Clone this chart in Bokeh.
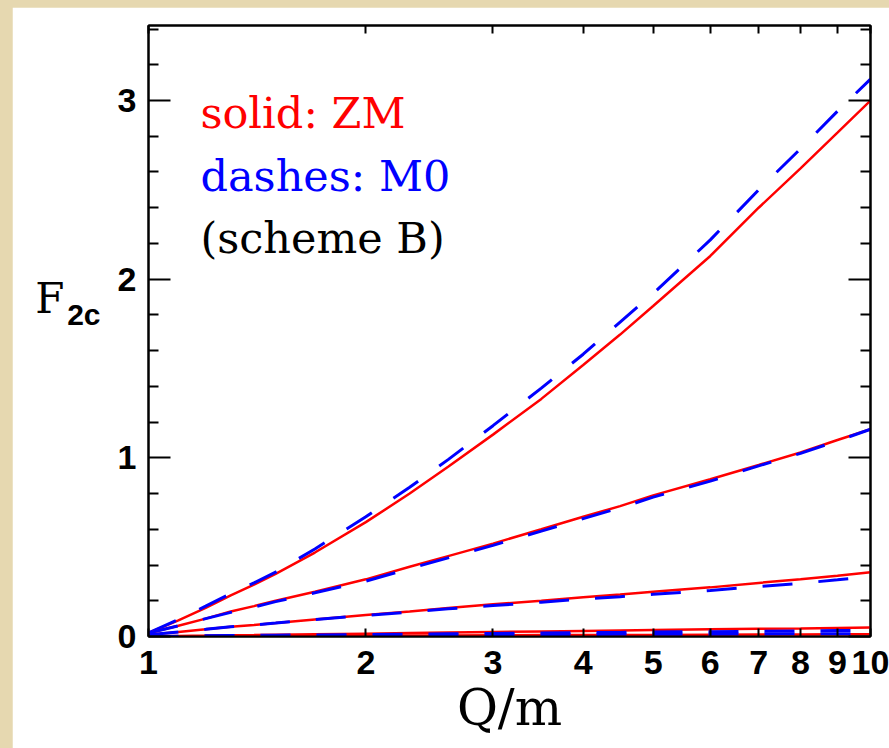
from bokeh.plotting import figure
from bokeh.models import (Label, LinearAxis, LogAxis, FixedTicker, PrintfTickFormatter,
                          CustomJSTickFormatter, Range1d)
from bokeh.layouts import column
from bokeh.embed import file_html
from bokeh.resources import INLINE

# ---- data ----
q = [1, 1.1, 1.2, 1.3, 1.4, 1.5, 1.7, 2, 2.3, 2.6, 3, 3.5, 4, 4.5, 5, 6, 7, 8, 9, 10]

zm_a = [0.02, 0.09, 0.16, 0.23, 0.29, 0.35, 0.47, 0.64, 0.80, 0.95, 1.13, 1.33, 1.52, 1.69, 1.85,
        2.13, 2.40, 2.62, 2.82, 3.00]
m0_a = [0.02, 0.095, 0.17, 0.24, 0.30, 0.36, 0.49, 0.67, 0.835, 0.99, 1.18, 1.39, 1.58, 1.76, 1.92,
        2.22, 2.50, 2.73, 2.94, 3.12]

zm_b = [0.02, 0.06, 0.10, 0.14, 0.17, 0.20, 0.25, 0.32, 0.39, 0.45, 0.52, 0.60, 0.67, 0.73, 0.79,
        0.88, 0.96, 1.03, 1.10, 1.16]
m0_b = [0.02, 0.06, 0.10, 0.135, 0.165, 0.195, 0.245, 0.31, 0.38, 0.44, 0.51, 0.59, 0.66, 0.72, 0.78,
        0.87, 0.955, 1.025, 1.095, 1.16]

zm_c = [0.01, 0.025, 0.04, 0.055, 0.065, 0.075, 0.095, 0.12, 0.14, 0.16, 0.18, 0.20, 0.22, 0.235,
        0.25, 0.275, 0.30, 0.32, 0.34, 0.36]
m0_c = [0.01, 0.025, 0.04, 0.055, 0.065, 0.075, 0.095, 0.118, 0.137, 0.155, 0.173, 0.192, 0.21,
        0.223, 0.236, 0.258, 0.28, 0.298, 0.317, 0.335]

zm_d = [0.0, 0.003, 0.005, 0.007, 0.008, 0.010, 0.013, 0.016, 0.019, 0.022, 0.025, 0.028, 0.031,
        0.034, 0.036, 0.040, 0.043, 0.045, 0.048, 0.050]
m0_d = [0.0, 0.002, 0.004, 0.005, 0.006, 0.007, 0.009, 0.011, 0.013, 0.015, 0.017, 0.019, 0.021,
        0.023, 0.025, 0.027, 0.029, 0.031, 0.033, 0.035]

zm_e = [0.0, 0.001, 0.002, 0.002, 0.003, 0.003, 0.004, 0.005, 0.006, 0.006, 0.007, 0.008, 0.008,
        0.009, 0.009, 0.010, 0.011, 0.011, 0.012, 0.012]
m0_e = [0.0, 0.001, 0.002, 0.003, 0.003, 0.004, 0.005, 0.006, 0.007, 0.008, 0.009, 0.010, 0.011,
        0.012, 0.012, 0.013, 0.014, 0.015, 0.015, 0.016]

x_ticks = [1, 2, 3, 4, 5, 6, 7, 8, 9, 10]
y_ticks = [0, 1, 2, 3]
y_minor = [0.2, 0.4, 0.6, 0.8, 1.2, 1.4, 1.6, 1.8, 2.2, 2.4, 2.6, 2.8, 3.2, 3.4]

RED = "#ff0000"
BLUE = "#0000ff"

p = figure(x_axis_type="log", x_range=Range1d(1, 10), y_range=Range1d(0, 3.42),
           frame_width=722, frame_height=611,
           min_border_left=136, min_border_right=19, min_border_top=18, min_border_bottom=112,
           output_backend="svg", toolbar_location=None,
           background_fill_color="white", border_fill_color="white",
           outline_line_color="black", outline_line_width=2)
p.margin = (7, 0, 0, 12)
p.xgrid.visible = False
p.ygrid.visible = False

for zm, m0 in [(zm_a, m0_a), (zm_b, m0_b), (zm_c, m0_c), (zm_d, m0_d), (zm_e, m0_e)]:
    p.line(q, zm, line_color=RED, line_width=2.5)
    p.line(q, m0, line_color=BLUE, line_width=3, line_dash="30 26")

blank = CustomJSTickFormatter(code="return ''")

# bottom axis
xa = p.xaxis[0]
xa.ticker = FixedTicker(ticks=x_ticks)
xa.formatter = PrintfTickFormatter(format="%d")
xa.major_tick_in = 8
xa.major_tick_out = 0
xa.minor_tick_in = 0
xa.minor_tick_out = 0
xa.axis_line_width = 2
xa.major_tick_line_width = 2
xa.major_label_standoff = 14
xa.major_label_text_font = "Liberation Sans"
xa.major_label_text_font_style = "bold"
xa.major_label_text_font_size = "34px"
xa.major_label_text_color = "black"
xa.axis_label = "Q/m"
xa.axis_label_text_font = "DejaVu Serif"
xa.axis_label_text_font_style = "normal"
xa.axis_label_text_font_size = "50px"
xa.axis_label_text_color = "black"
xa.axis_label_standoff = 2

# left axis
ya = p.yaxis[0]
ya.ticker = FixedTicker(ticks=y_ticks, minor_ticks=y_minor)
ya.major_tick_in = 22
ya.major_tick_out = 0
ya.minor_tick_in = 10
ya.minor_tick_out = 0
ya.axis_line_width = 2
ya.major_tick_line_width = 2
ya.minor_tick_line_width = 2
ya.major_label_standoff = 12
ya.major_label_text_font = "Liberation Sans"
ya.major_label_text_font_style = "bold"
ya.major_label_text_font_size = "34px"
ya.major_label_text_color = "black"

# y-axis title "F" with subscript "2c", drawn as label-only axes in the left margin
sub_axis = LinearAxis(ticker=FixedTicker(ticks=[1.80]),
                      formatter=CustomJSTickFormatter(code="return '2c'"),
                      axis_line_color=None, major_tick_line_color=None, minor_tick_line_color=None,
                      major_tick_in=0, major_tick_out=0, minor_tick_in=0, minor_tick_out=0,
                      major_label_standoff=14, major_label_text_font="Liberation Sans",
                      major_label_text_font_style="bold", major_label_text_font_size="30px",
                      major_label_text_color="black")
p.add_layout(sub_axis, "left")
f_axis = LinearAxis(ticker=FixedTicker(ticks=[1.89]),
                    formatter=CustomJSTickFormatter(code="return 'F'"),
                    axis_line_color=None, major_tick_line_color=None, minor_tick_line_color=None,
                    major_tick_in=0, major_tick_out=0, minor_tick_in=0, minor_tick_out=0,
                    major_label_standoff=0, major_label_text_font="DejaVu Serif",
                    major_label_text_font_size="42px", major_label_text_color="black")
p.add_layout(f_axis, "left")

# top and right axes (ticks only)
top = LogAxis(ticker=FixedTicker(ticks=x_ticks), formatter=blank, major_tick_in=8, major_tick_out=0,
              minor_tick_in=0, minor_tick_out=0, axis_line_width=2, major_tick_line_width=2)
p.add_layout(top, "above")
right = LinearAxis(ticker=FixedTicker(ticks=y_ticks, minor_ticks=y_minor), formatter=blank,
                   major_tick_in=22, major_tick_out=0, minor_tick_in=10, minor_tick_out=0,
                   axis_line_width=2, major_tick_line_width=2, minor_tick_line_width=2)
p.add_layout(right, "right")

# legend-like texts
p.add_layout(Label(x=1.18, y=2.93, text="solid: ZM", text_color=RED, text_font="DejaVu Serif",
                   text_font_size="43px", text_baseline="alphabetic"))
p.add_layout(Label(x=1.18, y=2.58, text="dashes: M0", text_color=BLUE, text_font="DejaVu Serif",
                   text_font_size="43px", text_baseline="alphabetic"))
p.add_layout(Label(x=1.18, y=2.23, text="(scheme B)", text_color="black", text_font="DejaVu Serif",
                   text_font_size="43px", text_baseline="alphabetic"))

page = column(p, styles={"background-color": "#e6d8b0"})
open("out.html", "w").write(file_html(page, INLINE))
